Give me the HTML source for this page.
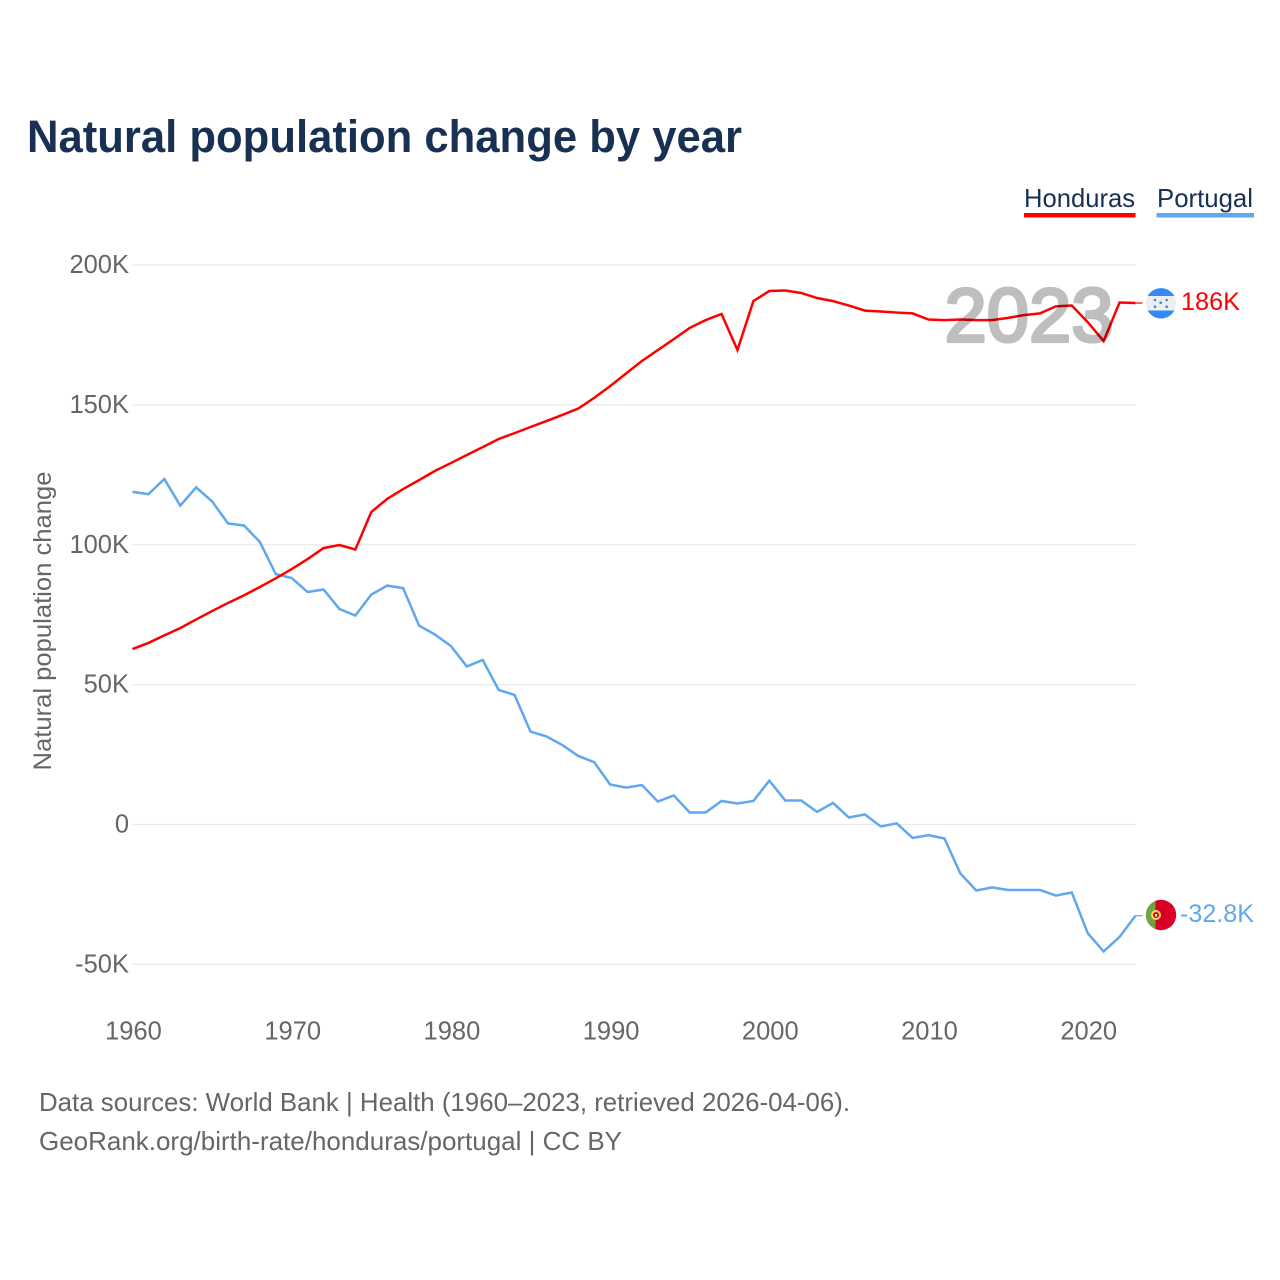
<!DOCTYPE html>
<html lang="en">
<head>
<meta charset="utf-8">
<title>Natural population change by year</title>
<style>
html,body{margin:0;padding:0;background:#fff;width:1280px;height:1280px;overflow:hidden}
svg{display:block}
text{font-family:"Liberation Sans",sans-serif}
</style>
</head>
<body>
<svg id="chart" xmlns="http://www.w3.org/2000/svg" width="1280" height="1280" viewBox="0 0 1280 1280">
  <rect x="0" y="0" width="1280" height="1280" fill="#fff"/>
  <text x="27" y="152" font-size="45" font-weight="700" fill="#183153" textLength="715" lengthAdjust="spacingAndGlyphs">Natural population change by year</text>

  <g>
    <g>
      <text x="1024" y="207" font-size="26" fill="#183153" textLength="111" lengthAdjust="spacingAndGlyphs">Honduras</text>
      <rect x="1024" y="213" width="111.500" height="4.500" fill="#ff0000"/>
    </g>
    <g>
      <text x="1157" y="207" font-size="26" fill="#183153" textLength="96" lengthAdjust="spacingAndGlyphs">Portugal</text>
      <rect x="1156.500" y="213" width="97.500" height="4.500" fill="#5fa8ee"/>
    </g>
  </g>

  <text transform="translate(51,621) rotate(-90)" text-anchor="middle" font-size="25" fill="#666" textLength="299" lengthAdjust="spacingAndGlyphs">Natural population change</text>

  <g id="grid"></g>
  <g id="yticks"></g>
  <g id="xticks"></g>
  <g id="series"></g>

  <g opacity="0.25">
    <text x="944.500" y="341.500" font-size="76" font-weight="400" fill="#000" stroke="#000" stroke-width="3.200" stroke-linejoin="round">2023</text>
  </g>

  <g>
    <clipPath id="clip-hn"><circle id="hn-clip-circle" cx="1161" cy="303.300" r="15.200"/></clipPath>
    <g clip-path="url(#clip-hn)">
      <rect x="1145" y="288" width="32" height="8" fill="#338af3"/>
      <rect x="1145" y="296" width="32" height="14.500" fill="#eeeeee"/>
      <rect x="1145" y="310.500" width="32" height="9" fill="#338af3"/>
      <circle cx="1155" cy="300" r="1.300" fill="#338af3"/>
      <circle cx="1166.700" cy="300" r="1.300" fill="#338af3"/>
      <circle cx="1160.700" cy="302.700" r="1.300" fill="#338af3"/>
      <circle cx="1155" cy="306.700" r="1.300" fill="#338af3"/>
      <circle cx="1166.700" cy="306.700" r="1.300" fill="#338af3"/>
    </g>
  </g>
  <text x="1181" y="310" font-size="25" fill="#ff0000" textLength="59" lengthAdjust="spacingAndGlyphs">186K</text>

  <g>
    <clipPath id="clip-pt"><circle id="pt-clip-circle" cx="1161" cy="915" r="15.200"/></clipPath>
    <g clip-path="url(#clip-pt)">
      <rect x="1145" y="899" width="11" height="32" fill="#6da544"/>
      <rect x="1155.500" y="899" width="21.500" height="32" fill="#d80027"/>
      <circle cx="1156" cy="915" r="4" fill="#d80027" stroke="#ffda44" stroke-width="2"/>
      <rect x="1155" y="914" width="2" height="2.500" fill="#f0f0f0"/>
    </g>
  </g>
  <text x="1180" y="922" font-size="25" fill="#5fa8ee" textLength="74" lengthAdjust="spacingAndGlyphs">-32.8K</text>

  <text x="39" y="1111" font-size="26" fill="#666" textLength="811" lengthAdjust="spacingAndGlyphs">Data sources: World Bank | Health (1960–2023, retrieved 2026-04-06).</text>
  <text x="39" y="1150" font-size="26" fill="#666" textLength="583" lengthAdjust="spacingAndGlyphs">GeoRank.org/birth-rate/honduras/portugal | CC BY</text>
</svg>

<script>
const startYear = 1960;
const hondurasValues = [
  62.7,64.9,67.6,70.2,73.3,76.3,79.2,81.9,84.9,88.0,
  91.3,94.9,98.8,99.9,98.3,111.7,116.4,119.9,123.1,126.4,
  129.2,132.1,134.9,137.8,139.9,142.1,144.2,146.4,148.7,152.5,
  156.7,161.2,165.7,169.6,173.5,177.5,180.3,182.5,169.6,187.1,
  190.7,190.9,190.0,188.2,187.1,185.5,183.7,183.4,183.0,182.7,
  180.5,180.3,180.5,180.3,180.3,181.1,182.1,182.7,185.2,185.5,
  179.6,172.8,186.6,186.4
];
const portugalValues = [
  118.9,118.1,123.5,114.0,120.5,115.5,107.6,106.9,101.0,89.5,
  88.1,83.1,84.0,77.0,74.7,82.2,85.4,84.5,71.1,67.9,
  63.8,56.5,58.8,48.1,46.3,33.2,31.5,28.4,24.5,22.3,
  14.3,13.2,14.1,8.2,10.4,4.3,4.3,8.4,7.5,8.4,
  15.7,8.6,8.6,4.5,7.7,2.5,3.6,-0.7,0.4,-4.8,
  -3.8,-5.0,-17.5,-23.6,-22.5,-23.4,-23.4,-23.4,-25.4,-24.3,
  -38.8,-45.4,-40.2,-32.6
];
const yTickValues = [200,150,100,50,0,-50];
const yTickLabels = ["200K","150K","100K","50K","0","-50K"];
const xTickValues = [1960,1970,1980,1990,2000,2010,2020];
const xTickLabels = ["1960","1970","1980","1990","2000","2010","2020"];

const NS = "http://www.w3.org/2000/svg";
const X0 = 132.500, PX_PER_YEAR = 15.920, Y0 = 824.500, PX_PER_K = 2.7975;
const LEADER = 7;

function xScale(year){ return X0 + (year - 1960) * PX_PER_YEAR; }
function yScale(k){ return Y0 - k * PX_PER_K; }

const gridG = document.getElementById("grid");
const yG = document.getElementById("yticks");
const xG = document.getElementById("xticks");
const seriesG = document.getElementById("series");

yTickValues.forEach(function(v, i){
  const y = yScale(v);
  const line = document.createElementNS(NS, "line");
  
  
  line.setAttribute("x1", X0);
  line.setAttribute("x2", 1136);
  line.setAttribute("y1", y);
  line.setAttribute("y2", y);
  line.setAttribute("stroke", "#e9e9e9");
  line.setAttribute("stroke-width", "1.300");
  gridG.appendChild(line);

  const t = document.createElementNS(NS, "text");
  
  
  t.setAttribute("x", 129);
  t.setAttribute("y", y + 8);
  t.setAttribute("text-anchor", "end");
  t.setAttribute("font-size", "25.500");
  t.setAttribute("fill", "#666");
  t.textContent = yTickLabels[i];
  yG.appendChild(t);
});

xTickValues.forEach(function(v, i){
  const t = document.createElementNS(NS, "text");
  
  
  t.setAttribute("x", xScale(v) + 1);
  t.setAttribute("y", 1039.500);
  t.setAttribute("text-anchor", "middle");
  t.setAttribute("font-size", "25.500");
  t.setAttribute("fill", "#666");
  t.textContent = xTickLabels[i];
  xG.appendChild(t);
});

function seriesPoints(values){
  return values.map(function(v, i){
    return xScale(startYear + i).toFixed(2) + "," + yScale(v).toFixed(2);
  }).join(" ");
}

function lastPointX(values){ return xScale(startYear + values.length - 1); }
function lastPointY(values){ return yScale(values[values.length - 1]); }

const portugalLine = document.createElementNS(NS, "polyline");


portugalLine.setAttribute("points", seriesPoints(portugalValues));
portugalLine.setAttribute("fill", "none");
portugalLine.setAttribute("stroke", "#5fa8ee");
portugalLine.setAttribute("stroke-width", "2.500");
portugalLine.setAttribute("stroke-linejoin", "miter");
seriesG.appendChild(portugalLine);

const portugalLeader = document.createElementNS(NS, "line");


portugalLeader.setAttribute("x1", lastPointX(portugalValues));
portugalLeader.setAttribute("x2", lastPointX(portugalValues) + LEADER);
portugalLeader.setAttribute("y1", lastPointY(portugalValues));
portugalLeader.setAttribute("y2", lastPointY(portugalValues));
portugalLeader.setAttribute("stroke", "#5fa8ee");
portugalLeader.setAttribute("stroke-width", "1.200");
seriesG.appendChild(portugalLeader);

const hondurasLine = document.createElementNS(NS, "polyline");


hondurasLine.setAttribute("points", seriesPoints(hondurasValues));
hondurasLine.setAttribute("fill", "none");
hondurasLine.setAttribute("stroke", "#ff0000");
hondurasLine.setAttribute("stroke-width", "2.500");
hondurasLine.setAttribute("stroke-linejoin", "miter");
seriesG.appendChild(hondurasLine);

const hondurasLeader = document.createElementNS(NS, "line");


hondurasLeader.setAttribute("x1", lastPointX(hondurasValues));
hondurasLeader.setAttribute("x2", lastPointX(hondurasValues) + LEADER);
hondurasLeader.setAttribute("y1", lastPointY(hondurasValues));
hondurasLeader.setAttribute("y2", lastPointY(hondurasValues));
hondurasLeader.setAttribute("stroke", "#ff0000");
hondurasLeader.setAttribute("stroke-width", "1.200");
seriesG.appendChild(hondurasLeader);
</script>
</body>
</html>
